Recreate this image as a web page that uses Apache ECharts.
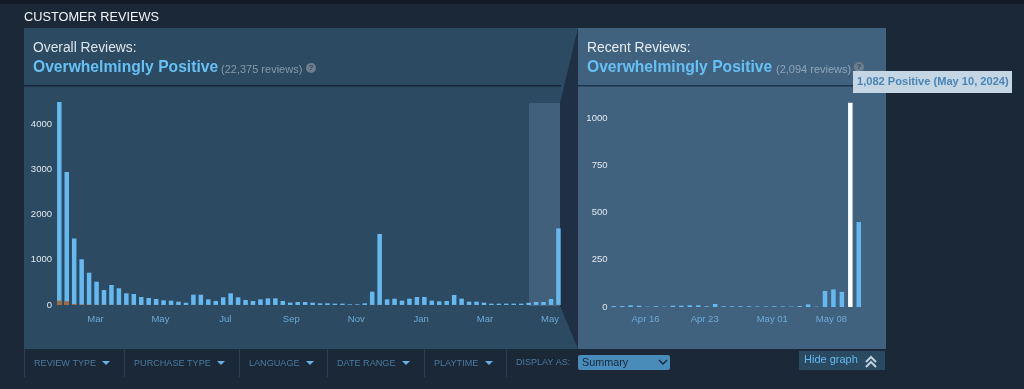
<!DOCTYPE html>
<html>
<head>
<meta charset="utf-8">
<style>
html,body{margin:0;padding:0;background:#1b2838;overflow:hidden}
#chart{width:1024px;height:389px}
</style>
<script src="https://cdn.jsdelivr.net/npm/echarts@6/dist/echarts.min.js"></script>
</head>
<body>
<div id="chart"></div>
<script>
// ---- data ----
const overallPositive = [4486,2940,1470,1010,715,515,331,442,370,258,243,177,155,133,103,96,74,50,228,228,125,88,170,258,170,110,88,125,147,147,88,52,66,66,52,37,37,30,30,15,15,37,295,1569,125,140,96,140,177,177,96,81,88,221,140,74,74,52,30,30,30,30,30,50,66,66,133,1694];
const overallNegative = [95,85,22,15,10,8,6,6,5,4,4,3,3,2,2,2,2,1,4,4,2,2,3,4,3,2,2,2,2,2,2,1,1,1,1,1,1,1,1,1,1,1,3,5,2,2,2,2,3,3,2,2,2,3,2,2,2,1,1,1,1,1,1,1,1,1,2,5];
const overallTickDates = ['2023-03-01','2023-05-01','2023-07-01','2023-09-01','2023-11-01','2024-01-01','2024-03-01','2024-05-01'];
const overallTickLabels = ['Mar','May','Jul','Sep','Nov','Jan','Mar','May'];
const recentPositive = [5,5,9,7,2,4,2,7,7,9,9,4,16,4,4,4,4,3,3,4,3,2,5,14,2,85,93,80,1082,450];
const recentTickDates = ['2024-04-16','2024-04-23','2024-05-01','2024-05-08'];
const recentTickLabels = ['Apr 16','Apr 23','May 01','May 08'];
const overallFirstWeek = '2023-01-26';
const recentFirstDay = '2024-04-12';
const hoveredDay = 28;
const filterLabels = ['REVIEW TYPE','PURCHASE TYPE','LANGUAGE','DATE RANGE','PLAYTIME'];

// ---- style and layout ----
const DAY = 86400000;
const ts = s => Date.parse(s + 'T00:00:00Z');
const font = '"Liberation Sans", Arial, sans-serif';
const blue = '#66b9f0';
const t0 = ts(overallFirstWeek), r0 = ts(recentFirstDay);
const overallDates = overallPositive.map((_, i) => t0 + i * 7 * DAY);
const recentDates = recentPositive.map((_, i) => r0 + i * DAY);

function text(x, y, s, fill, size, weight, extra) {
  return Object.assign({type:'text', x, y, silent:true, z:5,
    style:{text:s, fill, font:(weight||'normal')+' '+size+'px '+font, textBaseline:'middle', verticalAlign:'middle'}}, extra||{});
}
function rect(x, y, w, h, fill, z, r) {
  return {type:'rect', silent:true, z:z||1, shape:{x, y, width:w, height:h, r:r||0}, style:{fill}};
}
function poly(points, fill, z) {
  return {type:'polygon', silent:true, z:z||2, shape:{points}, style:{fill}};
}
function chevron(points, stroke, w) {
  return {type:'polyline', silent:true, z:5, shape:{points}, style:{stroke, fill:'none', lineWidth:w}};
}
function helpDot(x, y) {
  return [{type:'circle', silent:true, z:5, shape:{cx:x, cy:y, r:5}, style:{fill:'#6d7f8f'}},
          text(x-2.4, y, '?', '#2b4a62', 8, 'bold')];
}

const filterX = [34,134,249,337,434];
const filterArrowX = [106,221,310,406,489];
const separatorsX = [24,124,239,327,424,506];

const graphics = [
  rect(0,0,1024,389,'#1b2838',0),
  rect(0,0,1024,4,'#131c27',0),
  rect(24,28,554,321,'#2c4a61',1),
  rect(578,28,308,321,'#41627f',1),
  rect(24,85,537,1.5,'#16263a',2),
  rect(578,85,308,1.5,'#1c3247',2),
  rect(529,103,31,203,'#40607b',2),
  poly([[578,28],[560,103],[560,306],[578,349]],'#1f3044',3),
  text(24,17,'CUSTOMER REVIEWS','#f1f5f8',12.75),
  text(33,48,'Overall Reviews:','#dbe5ec',13.8),
  text(33,68,'Overwhelmingly Positive','#66c0f4',15.65,'bold'),
  text(221,70,'(22,375 reviews)','#8699a8',11),
  ...helpDot(311,68),
  text(587,48,'Recent Reviews:','#e6edf2',13.8),
  text(587,68,'Overwhelmingly Positive','#66c0f4',15.65,'bold'),
  text(776,70,'(2,094 reviews)','#8fa5b6',11),
  ...helpDot(859,67),
  rect(853,71,159,22,'#c4d5e3',20),
  text(857,82,'1,082 Positive (May 10, 2024)','#4a86b5',11.1,'bold',{z:21}),
  text(516,363,'DISPLAY AS:','#4b7a9e',9),
  rect(578,355,92,15,'#4a8cb9',3,2),
  text(582,363,'Summary','#12263a',10.8),
  chevron([[659,360],[663,364],[667,360]],'#12263a',1.3),
  rect(799,351,86,19,'#2a4a62',3),
  text(804,360,'Hide graph','#66b9ee',11),
  chevron([[866,362],[871,357],[876,362]],'#bcd0de',2),
  chevron([[866,367],[871,362],[876,367]],'#bcd0de',2)
];
separatorsX.forEach(x => graphics.push(rect(x,349,1,28,'#2a3e52',2)));
filterLabels.forEach((s,i) => {
  graphics.push(text(filterX[i],363,s,'#4b7a9e',9.1));
  const a = filterArrowX[i];
  graphics.push(poly([[a-4,361],[a+4,361],[a,365]],'#6ab0e0',5));
});

const xLabel = {color:'#6faad6', fontSize:9.5, fontFamily:font, margin:9, hideOverlap:false};
const yLabel = {color:'#e0e8ee', fontSize:9.5, fontFamily:font, margin:2, showMinLabel:true, showMaxLabel:false, formatter:v=>String(v)};
const noLine = {show:false}, noTick = {show:false}, noSplit = {show:false};

const overallTickTs = overallTickDates.map(ts);
const recentTickTs = recentTickDates.map(ts);

const option = {
  animation:false,
  backgroundColor:'#1b2838',
  graphic:{elements:graphics},
  grid:[
    {left:53.98, width:506.6, top:102, height:203},
    {left:609.5, width:253.5, top:102.7, height:204.3}
  ],
  xAxis:[
    {type:'value', gridIndex:0, z:6, min:t0-5*DAY, max:overallDates[overallDates.length-1]+2*DAY, scale:true,
     axisLine:noLine, axisTick:noTick, splitLine:noSplit,
     axisLabel:Object.assign({}, xLabel, {customValues:overallTickTs,
       formatter:(v)=>overallTickLabels[overallTickTs.indexOf(v)]})},
    {type:'value', gridIndex:1, z:6, min:r0-0.5*DAY, max:recentDates[recentDates.length-1]+0.5*DAY, scale:true,
     axisLine:noLine, axisTick:noTick, splitLine:noSplit,
     axisLabel:Object.assign({}, xLabel, {margin:7, padding:[0,4,0,0], customValues:recentTickTs,
       formatter:(v)=>recentTickLabels[recentTickTs.indexOf(v)]})}
  ],
  yAxis:[
    {type:'value', gridIndex:0, z:6, min:0, max:4486, interval:1000,
     axisLine:noLine, axisTick:noTick, splitLine:noSplit, axisLabel:yLabel},
    {type:'value', gridIndex:1, z:6, min:0, max:1082, interval:250,
     axisLine:noLine, axisTick:noTick, splitLine:noSplit, axisLabel:yLabel}
  ],
  series:[
    {type:'bar', name:'Positive', z:6, xAxisIndex:0, yAxisIndex:0, barWidth:4.5, barGap:'-100%',
     itemStyle:{color:blue}, data:overallPositive.map((v,i)=>[overallDates[i],v])},
    {type:'bar', name:'Negative', z:6, xAxisIndex:0, yAxisIndex:0, barWidth:4.5, barGap:'-100%',
     itemStyle:{color:'#a8683f'}, data:overallNegative.map((v,i)=>[overallDates[i],v])},
    {type:'bar', name:'Recent', z:6, xAxisIndex:1, yAxisIndex:1, barWidth:4.5,
     data:recentPositive.map((v,i)=>({value:[recentDates[i],v],
       itemStyle:{color:i===hoveredDay?'#ffffff':blue}}))}
  ]
};
echarts.init(document.getElementById('chart'),null,{renderer:'canvas'}).setOption(option);
</script>
</body>
</html>
